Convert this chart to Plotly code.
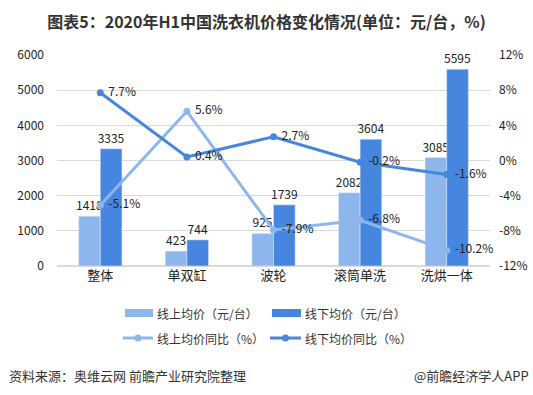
import plotly.graph_objects as go

categories = ["整体", "单双缸", "波轮", "滚筒单洗", "洗烘一体"]
online_price = [1418, 423, 925, 2082, 3085]
offline_price = [3335, 744, 1739, 3604, 5595]
online_yoy = [-5.1, 5.6, -7.9, -6.8, -10.2]
offline_yoy = [7.7, 0.4, 2.7, -0.2, -1.6]
left_ticks = [0, 1000, 2000, 3000, 4000, 5000, 6000]
right_ticks = [-12, -8, -4, 0, 4, 8, 12]
legend_names = ["线上均价（元/台）", "线下均价（元/台）", "线上均价同比（%）", "线下均价同比（%）"]

LIGHT = "#8DB7EC"
DARK = "#4786DE"
FONT = "Noto Sans CJK SC"
L, R, T, B = 57, 43, 55, 129
W, H = 533, 395
PW, PH = W - L - R, H - T - B


def px(x):
    return (x - L) / PW


def py(y):
    return (H - B - y) / PH


fig = go.Figure()
fig.add_trace(go.Bar(x=categories, y=online_price, name=legend_names[0],
                     marker_color=LIGHT, text=[str(v) for v in online_price],
                     textposition="outside", textfont=dict(size=12, color="#222"),
                     constraintext="none", cliponaxis=False))
fig.add_trace(go.Bar(x=categories, y=offline_price, name=legend_names[1],
                     marker_color=DARK, text=[str(v) for v in offline_price],
                     textposition="outside", textfont=dict(size=12, color="#222"),
                     constraintext="none", cliponaxis=False))
fig.add_trace(go.Scatter(x=categories, y=online_yoy, name=legend_names[2],
                         mode="lines+markers+text", yaxis="y2",
                         line=dict(color=LIGHT, width=3), marker=dict(size=7, color=LIGHT),
                         text=[f" {v}%" for v in online_yoy], textposition="middle right",
                         textfont=dict(size=12, color="#222"), cliponaxis=False))
fig.add_trace(go.Scatter(x=categories, y=offline_yoy, name=legend_names[3],
                         mode="lines+markers+text", yaxis="y2",
                         line=dict(color=DARK, width=3), marker=dict(size=7, color=DARK),
                         text=[f" {v}%" for v in offline_yoy], textposition="middle right",
                         textfont=dict(size=12, color="#222"), cliponaxis=False))

fig.update_layout(
    width=W, height=H,
    margin=dict(l=L, r=R, t=T, b=B, autoexpand=False),
    paper_bgcolor="white", plot_bgcolor="white",
    font=dict(family=FONT, size=12, color="#222"),
    barmode="group", bargap=0.5, bargroupgap=0,
    showlegend=False,
    title=dict(text="<b>图表5：2020年H1中国洗衣机价格变化情况(单位：元/台，%)</b>",
               x=0.5, xanchor="center", y=1 - 22 / H, yanchor="middle",
               font=dict(size=16, color="#333", family=FONT)),
    xaxis=dict(showgrid=False, showline=False, ticks="", tickfont=dict(size=13)),
    yaxis=dict(range=[0, 6000], tickvals=left_ticks, showgrid=True, gridcolor="#D9D9D9",
               zeroline=True, zerolinecolor="#D9D9D9", showline=False, tickfont=dict(size=12),
               ticklabelstandoff=12),
    yaxis2=dict(range=[-12, 12], tickvals=right_ticks, ticktext=[f"{v}%" for v in right_ticks],
                overlaying="y", side="right", showgrid=False, zeroline=False,
                tickfont=dict(size=12), ticklabelstandoff=8),
)

# manual legend
rows = [313, 338]
starts = [(125, 153), (272, 301)]
for i, name in enumerate(legend_names):
    row = i // 2
    col = i % 2
    yc = rows[row]
    x0, x1 = starts[col]
    color = LIGHT if col == 0 else DARK
    if row == 0:
        fig.add_shape(type="rect", xref="paper", yref="paper",
                      x0=px(x0), x1=px(x1), y0=py(yc + 4), y1=py(yc - 4),
                      fillcolor=color, line=dict(width=0))
    else:
        fig.add_shape(type="line", xref="paper", yref="paper",
                      x0=px(x0 - 2), x1=px(x1), y0=py(yc), y1=py(yc),
                      line=dict(color=color, width=3))
        xm = (x0 - 2 + x1) / 2
        fig.add_shape(type="circle", xref="paper", yref="paper",
                      x0=px(xm - 3.5), x1=px(xm + 3.5), y0=py(yc + 3.5), y1=py(yc - 3.5),
                      fillcolor=color, line=dict(width=0))
    fig.add_annotation(text=name, xref="paper", yref="paper", x=px(x1 + 2), xanchor="left",
                       y=py(yc), yanchor="middle", showarrow=False,
                       font=dict(size=12, color="#333"))

fig.add_annotation(text="资料来源：奥维云网 前瞻产业研究院整理", xref="paper", yref="paper",
                   x=px(7), xanchor="left", y=py(375), yanchor="middle", showarrow=False,
                   font=dict(size=13, color="#333"))
fig.add_annotation(text="@前瞻经济学人APP", xref="paper", yref="paper",
                   x=px(531), xanchor="right", y=py(375), yanchor="middle", showarrow=False,
                   font=dict(size=13, color="#333"))

fig.write_html("out.html", config={"displayModeBar": False},
               post_script="document.body.style.margin='0';document.body.style.overflow='hidden';")
